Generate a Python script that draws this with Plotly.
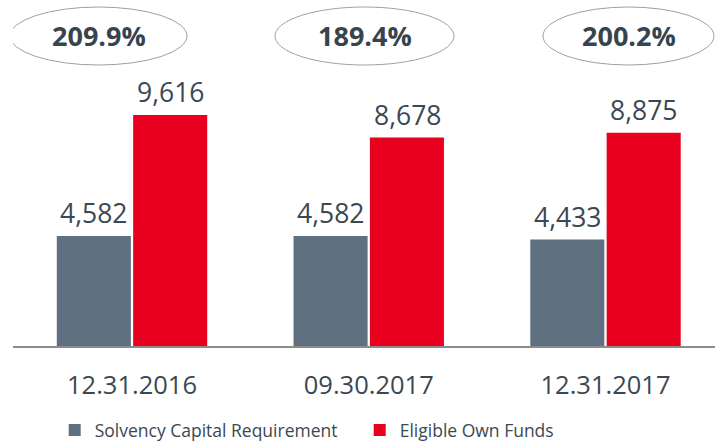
import plotly.graph_objects as go

categories = ["12.31.2016", "09.30.2017", "12.31.2017"]
scr = [4582, 4582, 4433]
eof = [9616, 8678, 8875]
ratios = ["209.9%", "189.4%", "200.2%"]
series_names = ["Solvency Capital Requirement", "Eligible Own Funds"]

GREY = "#5f7080"
RED = "#e8001e"
TXT = "#3b4852"
FONT = "Open Sans"

W, H = 715, 442
L, R, T, B = 13, 0, 0, 96
plot_h = H - T - B
ymax = 14405

fig = go.Figure()
fig.add_trace(go.Bar(x=list(range(3)), y=scr, name=series_names[0],
                     marker=dict(color=GREY, line=dict(width=0))))
fig.add_trace(go.Bar(x=list(range(3)), y=eof, name=series_names[1],
                     marker=dict(color=RED, line=dict(width=0))))

# value labels
for i in range(3):
    for off, vals in ((-0.1625, scr), (0.1625, eof)):
        fig.add_annotation(x=i + off, y=vals[i], text=f"{vals[i]:,}",
                           showarrow=False, yanchor="bottom", yshift=3,
                           font=dict(family=FONT, size=26.5, color=TXT))

# ratio ellipses (pixel positions converted to data coords)
def px_to_x(px):
    return (px - 132) / 236.75

def py_to_y(py):
    return (346 - py) / plot_h * ymax

ell = [(10, 187), (275, 454), (543, 714)]
for (x0, x1), lab in zip(ell, ratios):
    fig.add_shape(type="circle", xref="x", yref="y",
                  x0=px_to_x(x0), x1=px_to_x(x1), y0=py_to_y(65), y1=py_to_y(7),
                  line=dict(color="#a0a0a0", width=1), fillcolor="rgba(0,0,0,0)")
    fig.add_annotation(x=px_to_x((x0 + x1) / 2), y=py_to_y(35.5), text=lab,
                       showarrow=False, xref="x", yref="y",
                       font=dict(family=FONT, size=27, color="#37444e", weight="bold"))

fig.update_layout(
    width=W, height=H,
    margin=dict(l=L, r=R, t=T, b=B, pad=0, autoexpand=False),
    paper_bgcolor="white", plot_bgcolor="white",
    barmode="group", bargap=0.355, bargroupgap=0.03,
    font=dict(family=FONT, color=TXT),
    showlegend=True,
    legend=dict(orientation="h", x=0.0594, xanchor="left", y=-0.243, yanchor="middle",
                font=dict(family=FONT, size=17.5, color=TXT),
                entrywidth=260, entrywidthmode="pixels",
                itemclick=False, traceorder="normal"),
)
fig.update_xaxes(range=[(13 - 132) / 236.75, (715 - 132) / 236.75],
                 tickmode="array", tickvals=list(range(3)), ticktext=categories,
                 tickfont=dict(family=FONT, size=25.5, color=TXT),
                 showgrid=False, zeroline=False, showline=True,
                 linecolor="#8c8c8c", linewidth=1.5, ticks="", ticklabelstandoff=16)
fig.update_yaxes(range=[0, ymax], visible=False, showgrid=False, zeroline=False)

fig.write_html("out.html", config={"displayModeBar": False},
               post_script="document.body.style.margin='0';document.body.style.padding='0';")
